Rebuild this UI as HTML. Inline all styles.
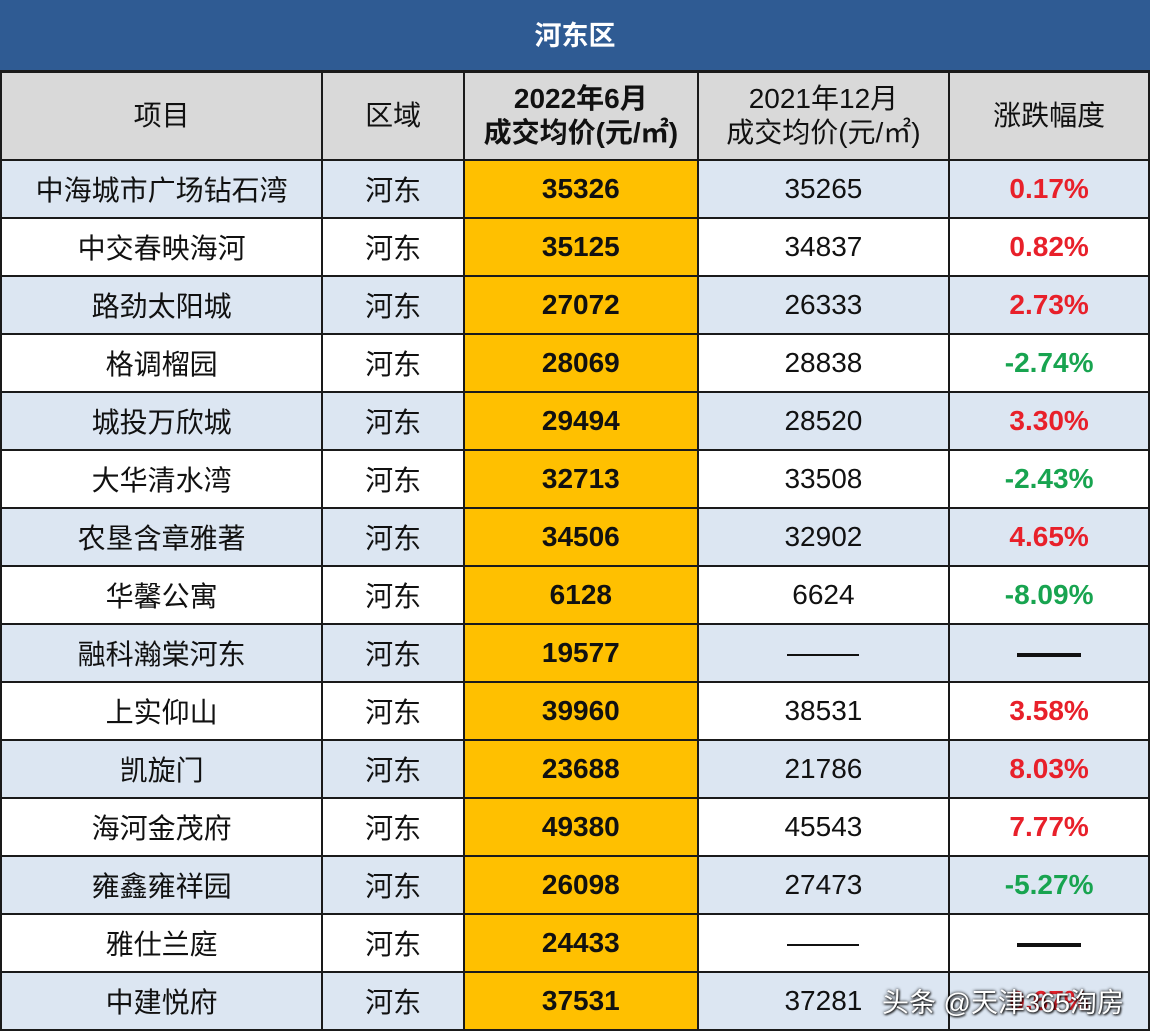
<!DOCTYPE html>
<html><head><meta charset="utf-8"><style>
body{margin:0;width:1150px;height:1032px;overflow:hidden;background:#fff;font-family:"Liberation Sans","Noto Sans CJK SC",sans-serif;position:relative}
.title{position:absolute;left:0;top:0;width:1150px;height:72px;background:#2f5b93;color:#fff;font-weight:bold;font-size:27px;text-align:center;line-height:72px;border-bottom:2px solid #1a1a1a;box-sizing:border-box}
table{position:absolute;left:0;top:71px;border-collapse:collapse;table-layout:fixed}
td{border:2px solid #1a1a1a;text-align:center;font-size:28px;color:#111;padding:0;height:56px}
tr.h td{background:#d9d9d9;height:86px;line-height:34px}
tr.b td{background:#dce6f2}
tr.w td{background:#fff}
td.y{background:#ffc000!important;font-weight:bold}
.r{color:#e8202a;font-weight:bold}.g{color:#18a450;font-weight:bold}
.d1{display:inline-block;width:72px;border-top:2px solid #111;vertical-align:middle}
.d2{display:inline-block;width:64px;border-top:4px solid #111;vertical-align:middle}
.wm{position:absolute;right:26px;bottom:12px;color:#fff;font-size:27px;text-shadow:0 0 3px #000,1px 1px 2px #000}
</style></head><body>
<div class="title">河东区</div>
<table>
<colgroup><col style="width:322px"><col style="width:142px"><col style="width:234px"><col style="width:252px"><col style="width:200px"></colgroup>
<tr class="h"><td>项目</td><td>区域</td><td class="y" style="background:#d9d9d9!important">2022年6月<br>成交均价(元/㎡)</td><td style="font-weight:normal">2021年12月<br>成交均价(元/㎡)</td><td>涨跌幅度</td></tr>
<tr class="b"><td>中海城市广场钻石湾</td><td>河东</td><td class="y">35326</td><td>35265</td><td class="r">0.17%</td></tr>
<tr class="w"><td>中交春映海河</td><td>河东</td><td class="y">35125</td><td>34837</td><td class="r">0.82%</td></tr>
<tr class="b"><td>路劲太阳城</td><td>河东</td><td class="y">27072</td><td>26333</td><td class="r">2.73%</td></tr>
<tr class="w"><td>格调榴园</td><td>河东</td><td class="y">28069</td><td>28838</td><td class="g">-2.74%</td></tr>
<tr class="b"><td>城投万欣城</td><td>河东</td><td class="y">29494</td><td>28520</td><td class="r">3.30%</td></tr>
<tr class="w"><td>大华清水湾</td><td>河东</td><td class="y">32713</td><td>33508</td><td class="g">-2.43%</td></tr>
<tr class="b"><td>农垦含章雅著</td><td>河东</td><td class="y">34506</td><td>32902</td><td class="r">4.65%</td></tr>
<tr class="w"><td>华馨公寓</td><td>河东</td><td class="y">6128</td><td>6624</td><td class="g">-8.09%</td></tr>
<tr class="b"><td>融科瀚棠河东</td><td>河东</td><td class="y">19577</td><td><span class="d1"></span></td><td><span class="d2"></span></td></tr>
<tr class="w"><td>上实仰山</td><td>河东</td><td class="y">39960</td><td>38531</td><td class="r">3.58%</td></tr>
<tr class="b"><td>凯旋门</td><td>河东</td><td class="y">23688</td><td>21786</td><td class="r">8.03%</td></tr>
<tr class="w"><td>海河金茂府</td><td>河东</td><td class="y">49380</td><td>45543</td><td class="r">7.77%</td></tr>
<tr class="b"><td>雍鑫雍祥园</td><td>河东</td><td class="y">26098</td><td>27473</td><td class="g">-5.27%</td></tr>
<tr class="w"><td>雅仕兰庭</td><td>河东</td><td class="y">24433</td><td><span class="d1"></span></td><td><span class="d2"></span></td></tr>
<tr class="b"><td>中建悦府</td><td>河东</td><td class="y">37531</td><td>37281</td><td class="r">0.67%</td></tr>
</table>
<div class="wm">头条 @天津365淘房</div>
</body></html>
